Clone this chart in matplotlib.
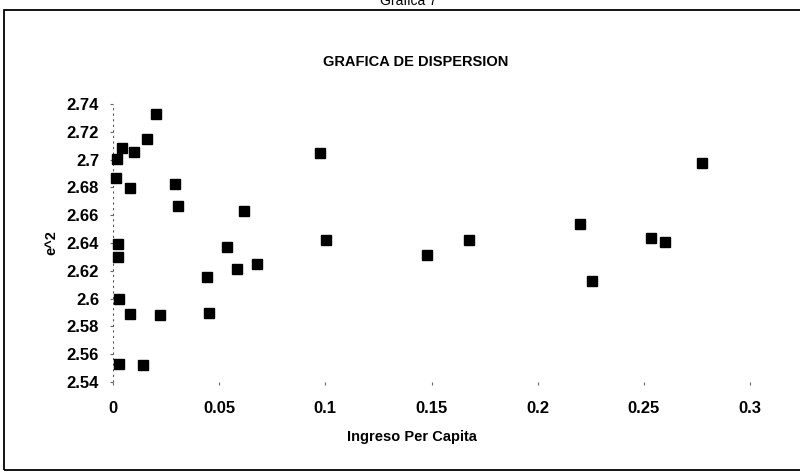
import matplotlib
matplotlib.use('Agg')
import matplotlib.pyplot as plt
from matplotlib.patches import Rectangle

plt.rcParams['font.family'] = ['Liberation Sans', 'DejaVu Sans']

# Ingreso per capita vs e^2
ingreso = [0.0202, 0.0160, 0.0042, 0.0099, 0.0019, 0.0014, 0.0080, 0.0292,
           0.0306, 0.0616, 0.0024, 0.0536, 0.0024, 0.0584, 0.0678, 0.0442,
           0.0028, 0.0080, 0.0221, 0.0452, 0.0028, 0.0141, 0.0976, 0.2776,
           0.1005, 0.1676, 0.1478, 0.2198, 0.2532, 0.2598, 0.2254]
e2 = [2.7327, 2.7147, 2.7082, 2.7054, 2.7003, 2.6867, 2.6795, 2.6824,
      2.6665, 2.6629, 2.6392, 2.6371, 2.6299, 2.6212, 2.6249, 2.6155,
      2.5997, 2.5889, 2.5882, 2.5896, 2.5529, 2.5522, 2.7046, 2.6975,
      2.6421, 2.6421, 2.6313, 2.6536, 2.6435, 2.6407, 2.6126]

xticks = [0, 0.05, 0.1, 0.15, 0.2, 0.25, 0.3]
xtick_labels = ['0', '0.05', '0.1', '0.15', '0.2', '0.25', '0.3']
yticks = [2.54, 2.56, 2.58, 2.6, 2.62, 2.64, 2.66, 2.68, 2.7, 2.72, 2.74]
ytick_labels = ['2.54', '2.56', '2.58', '2.6', '2.62', '2.64', '2.66', '2.68', '2.7', '2.72', '2.74']

fig = plt.figure(figsize=(8, 4.75), dpi=100)
ax = fig.add_axes([0.14125, 0.1958, 0.79625, 0.5853])

ax.plot(ingreso, e2, 's', color='black', markersize=6.5, clip_on=False)
ax.axvline(0, color='#555555', lw=0.8, ls=(0, (2, 3)), zorder=0)

ax.set_xlim(0, 0.3)
ax.set_ylim(2.54, 2.74)
ax.set_xticks(xticks)
ax.set_xticklabels(xtick_labels, fontweight='bold')
ax.set_yticks(yticks)
ax.set_yticklabels(ytick_labels, fontweight='bold')
ax.tick_params(axis='x', length=2, width=0.8, color='#666666', pad=12, labelsize=12)
ax.tick_params(axis='y', length=2, width=0.8, color='#666666', pad=8, labelsize=12)
for s in ax.spines.values():
    s.set_visible(False)

fig.text(0.519, 0.869, 'GRAFICA DE DISPERSION', ha='center', va='center',
         fontsize=10.5, fontweight='bold')
fig.text(0.515, 0.08, 'Ingreso Per Capita', ha='center', va='center',
         fontsize=10.5, fontweight='bold')
fig.text(0.064, 0.49, 'e^2', ha='center', va='center', rotation=90,
         fontsize=10.5, fontweight='bold')
fig.text(0.51, 0.997, 'Grafica 7', ha='center', va='center', fontsize=10)

# marco exterior del grafico
fig.patches.append(Rectangle((0.005, 0.0105), 1.2, 0.968, transform=fig.transFigure,
                             fill=False, edgecolor='black', lw=1.3))

fig.savefig('out.png', dpi=100)
